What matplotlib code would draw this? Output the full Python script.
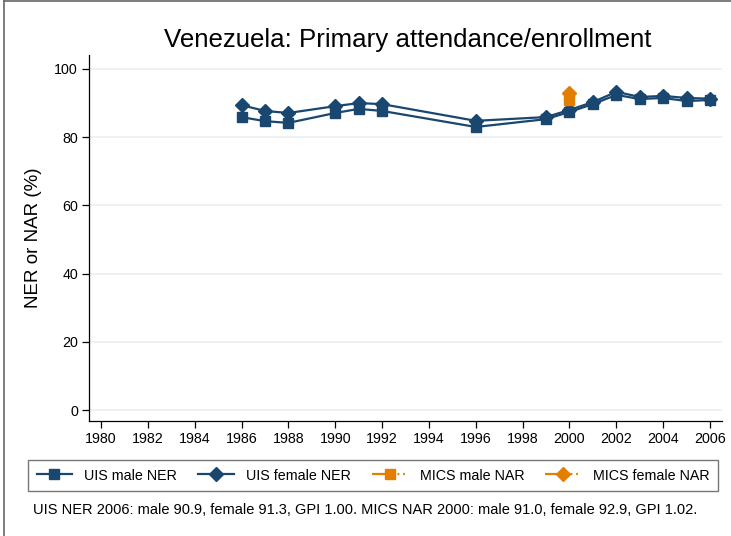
import numpy as np
import matplotlib.pyplot as plt
from matplotlib.lines import Line2D

plt.rcParams['font.family'] = ['Liberation Sans', 'DejaVu Sans']

years = [1986, 1987, 1988, 1990, 1991, 1992, 1996, 1999, 2000, 2001, 2002, 2003, 2004, 2005, 2006]
uis_male = [85.9, 84.7, 84.2, 87.1, 88.3, 87.7, 83.0, 85.3, 87.4, 89.7, 92.4, 91.2, 91.5, 90.6, 90.9]
uis_female = [89.4, 87.7, 87.1, 89.1, 90.0, 89.7, 84.8, 85.9, 88.0, 90.3, 93.3, 91.8, 92.1, 91.5, 91.3]
mics_years = [2000]
mics_male = [91.0]
mics_female = [92.9]

xticks = list(range(1980, 2007, 2))
yticks = [0, 20, 40, 60, 80, 100]

navy = '#1a476f'
orange = '#e37e00'

fig = plt.figure(figsize=(7.31, 5.36), dpi=100)
W, H = 731, 536
ax = fig.add_axes([89 / W, 1 - 421 / H, (722 - 89) / W, (421 - 55) / H])

ax.plot(years, uis_male, color=navy, lw=1.6, marker='s', ms=7.5, zorder=3)
ax.plot(years, uis_female, color=navy, lw=1.6, marker='D', ms=7.5, zorder=3)
ax.plot(mics_years, mics_male, color=orange, ls='none', marker='s', ms=7.5, zorder=4)
ax.plot(mics_years, mics_female, color=orange, ls='none', marker='D', ms=7.5, zorder=4)

ax.set_xlim(1979.49, 2006.51)
ax.set_ylim(-3.2, 104.1)
ax.set_xticks(xticks)
ax.set_yticks(yticks)
ax.tick_params(labelsize=10.3, length=5, width=0.9, color='black', pad=3)
ax.grid(axis='y', color='#e8eff2', lw=1.2)
ax.set_axisbelow(True)
for s in ['top', 'right']:
    ax.spines[s].set_visible(False)
for s in ['left', 'bottom']:
    ax.spines[s].set_linewidth(0.9)

ax.set_ylabel('NER or NAR (%)', fontsize=13.5, labelpad=9)
fig.text(408 / W, 1 - 40 / H, 'Venezuela: Primary attendance/enrollment',
         fontsize=18.6, ha='center', va='center')

# solid up to the marker, then two dots (dashes get scaled by lw)
dash = (7.5, 4, 0.8, 1.7, 0.8, 6)
handles = [
    Line2D([], [], color=navy, lw=1.6, marker='s', ms=7),
    Line2D([], [], color=navy, lw=1.6, marker='D', ms=7),
    Line2D([], [], color=orange, lw=1.6, marker='s', ms=7, dashes=dash),
    Line2D([], [], color=orange, lw=1.6, marker='D', ms=7, dashes=dash),
]
labels = ['UIS male NER', 'UIS female NER', 'MICS male NAR', 'MICS female NAR']
leg = fig.legend(handles, labels, ncol=4, loc='center',
                 bbox_to_anchor=(373 / W, 1 - 475.5 / H), fontsize=10.3,
                 handlelength=2.5, handletextpad=0.85, columnspacing=1.45,
                 fancybox=False, edgecolor='#555555', borderpad=0.6)
leg.get_frame().set_linewidth(1.0)

fig.text(33 / W, 1 - 510 / H,
         'UIS NER 2006: male 90.9, female 91.3, GPI 1.00. MICS NAR 2000: male 91.0, female 92.9, GPI 1.02.',
         fontsize=10.5, ha='left', va='center')

fig.add_artist(Line2D([4 / W, 1], [1 - 1 / H, 1 - 1 / H], color='#666666', lw=1.2))
fig.add_artist(Line2D([4 / W, 4 / W], [0, 1 - 1 / H], color='#666666', lw=1.2))

fig.savefig('out.png', dpi=100)
